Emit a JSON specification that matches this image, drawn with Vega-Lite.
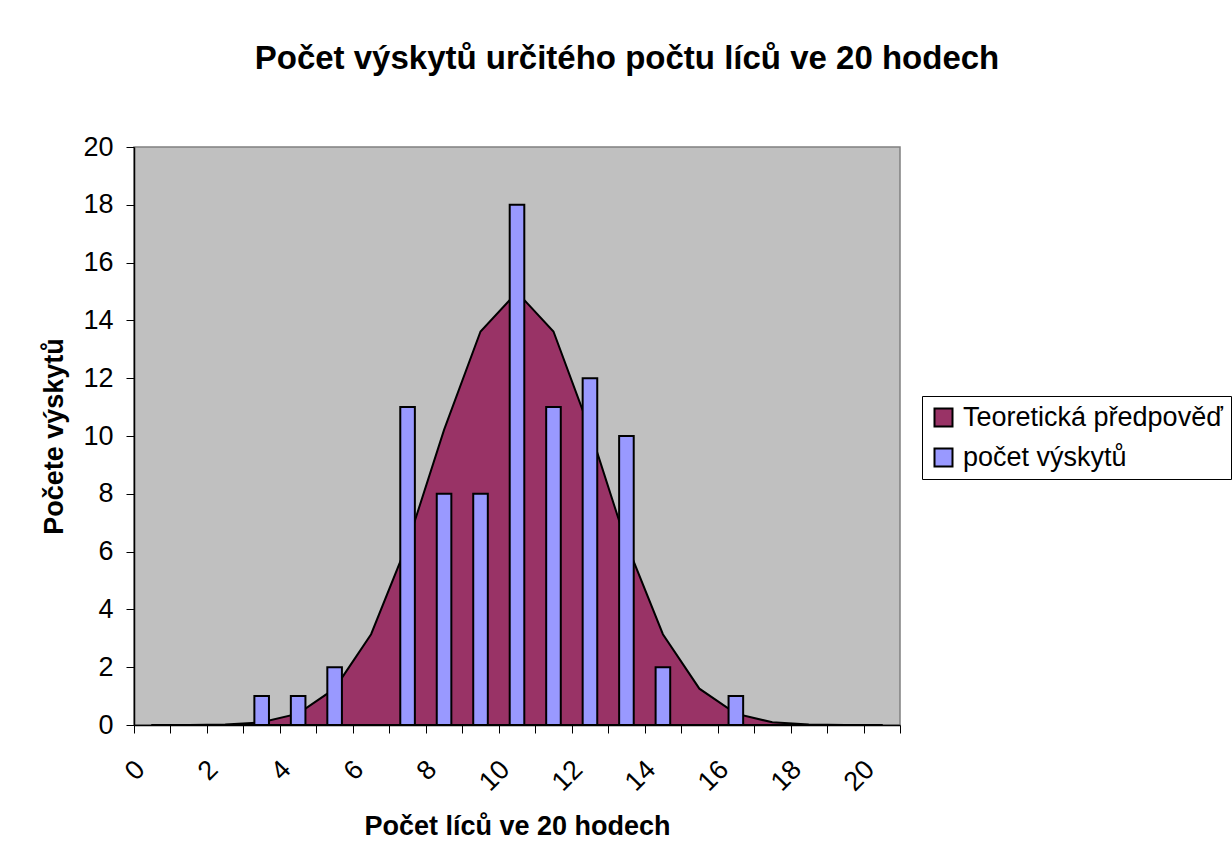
{
  "$schema": "https://vega.github.io/schema/vega-lite/v6.json",
  "autosize": {"type": "none"},
  "width": 766,
  "height": 578,
  "padding": {"left": 134, "top": 147, "right": 332, "bottom": 138},
  "background": "white",
  "title": {
    "text": "Počet výskytů určitého počtu líců ve 20 hodech",
    "font": "Liberation Sans",
    "fontSize": 33,
    "fontWeight": "bold",
    "color": "black",
    "anchor": "middle",
    "frame": "group",
    "dx": 110,
    "baseline": "alphabetic",
    "offset": 31
  },
  "datasets": {
    "teor": [
      {"k": 0, "v": 0.00008, "series": "Teoretická předpověď"},
      {"k": 1, "v": 0.0016, "series": "Teoretická předpověď"},
      {"k": 2, "v": 0.0154, "series": "Teoretická předpověď"},
      {"k": 3, "v": 0.0924, "series": "Teoretická předpověď"},
      {"k": 4, "v": 0.3927, "series": "Teoretická předpověď"},
      {"k": 5, "v": 1.2568, "series": "Teoretická předpověď"},
      {"k": 6, "v": 3.142, "series": "Teoretická předpověď"},
      {"k": 7, "v": 6.2839, "series": "Teoretická předpověď"},
      {"k": 8, "v": 10.2114, "series": "Teoretická předpověď"},
      {"k": 9, "v": 13.6152, "series": "Teoretická předpověď"},
      {"k": 10, "v": 14.9767, "series": "Teoretická předpověď"},
      {"k": 11, "v": 13.6152, "series": "Teoretická předpověď"},
      {"k": 12, "v": 10.2114, "series": "Teoretická předpověď"},
      {"k": 13, "v": 6.2839, "series": "Teoretická předpověď"},
      {"k": 14, "v": 3.142, "series": "Teoretická předpověď"},
      {"k": 15, "v": 1.2568, "series": "Teoretická předpověď"},
      {"k": 16, "v": 0.3927, "series": "Teoretická předpověď"},
      {"k": 17, "v": 0.0924, "series": "Teoretická předpověď"},
      {"k": 18, "v": 0.0154, "series": "Teoretická předpověď"},
      {"k": 19, "v": 0.0016, "series": "Teoretická předpověď"},
      {"k": 20, "v": 0.00008, "series": "Teoretická předpověď"}
    ],
    "pocet": [
      {"k": 3, "v": 1, "series": "počet výskytů"},
      {"k": 4, "v": 1, "series": "počet výskytů"},
      {"k": 5, "v": 2, "series": "počet výskytů"},
      {"k": 7, "v": 11, "series": "počet výskytů"},
      {"k": 8, "v": 8, "series": "počet výskytů"},
      {"k": 9, "v": 8, "series": "počet výskytů"},
      {"k": 10, "v": 18, "series": "počet výskytů"},
      {"k": 11, "v": 11, "series": "počet výskytů"},
      {"k": 12, "v": 12, "series": "počet výskytů"},
      {"k": 13, "v": 10, "series": "počet výskytů"},
      {"k": 14, "v": 2, "series": "počet výskytů"},
      {"k": 16, "v": 1, "series": "počet výskytů"}
    ]
  },
  "layer": [
    {
      "data": {"name": "teor"},
      "mark": {"type": "area", "stroke": "black", "strokeWidth": 2, "opacity": 1, "fillOpacity": 1},
      "encoding": {
        "x": {
          "field": "k",
          "type": "ordinal",
          "scale": {"domain": [0,1,2,3,4,5,6,7,8,9,10,11,12,13,14,15,16,17,18,19,20], "paddingInner": 0, "paddingOuter": 0},
          "axis": {
            "title": "Počet líců ve 20 hodech",
            "labelAngle": -45,
            "labelAlign": "right",
            "labelBaseline": "middle",
            "labelOffset": -12,
            "labelPadding": 32,
            "labelExpr": "datum.value % 2 === 0 ? datum.label : ''",
            "tickBand": "extent",
            "titlePadding": 18
          }
        },
        "y": {
          "field": "v",
          "type": "quantitative",
          "scale": {"domain": [0, 20], "nice": false, "zero": true},
          "axis": {
            "title": "Počete výskytů",
            "values": [0,2,4,6,8,10,12,14,16,18,20],
            "labelPadding": 13,
            "titlePadding": 14
          }
        },
        "color": {
          "field": "series",
          "type": "nominal",
          "scale": {"domain": ["Teoretická předpověď", "počet výskytů"], "range": ["#993366", "#9999FF"]},
          "legend": {
            "title": null,
            "orient": "none",
            "legendX": 788,
            "legendY": 249,
            "symbolType": "square",
            "symbolSize": 324,
            "symbolStrokeColor": "black",
            "symbolStrokeWidth": 2,
            "symbolOpacity": 1,
            "labelFont": "Liberation Sans",
            "labelFontSize": 27,
            "labelColor": "black",
            "labelOffset": 6,
            "labelLimit": 400,
            "rowPadding": 12,
            "padding": 8,
            "strokeColor": "black",
            "fillColor": "white"
          }
        }
      }
    },
    {
      "data": {"name": "pocet"},
      "mark": {"type": "bar", "stroke": "black", "strokeWidth": 2, "width": {"band": 0.4}, "opacity": 1, "fillOpacity": 1},
      "encoding": {
        "x": {"field": "k", "type": "ordinal"},
        "y": {"field": "v", "type": "quantitative"},
        "color": {"field": "series", "type": "nominal"}
      }
    }
  ],
  "config": {
    "view": {"fill": "#C0C0C0", "stroke": "#808080", "strokeWidth": 1.5},
    "axis": {
      "grid": false,
      "domainColor": "black",
      "domainWidth": 1.5,
      "tickColor": "black",
      "tickWidth": 1,
      "tickSize": 8,
      "labelFont": "Liberation Sans",
      "labelFontSize": 27,
      "labelColor": "black",
      "titleFont": "Liberation Sans",
      "titleFontSize": 27,
      "titleFontWeight": "bold",
      "titleColor": "black"
    }
  }
}
